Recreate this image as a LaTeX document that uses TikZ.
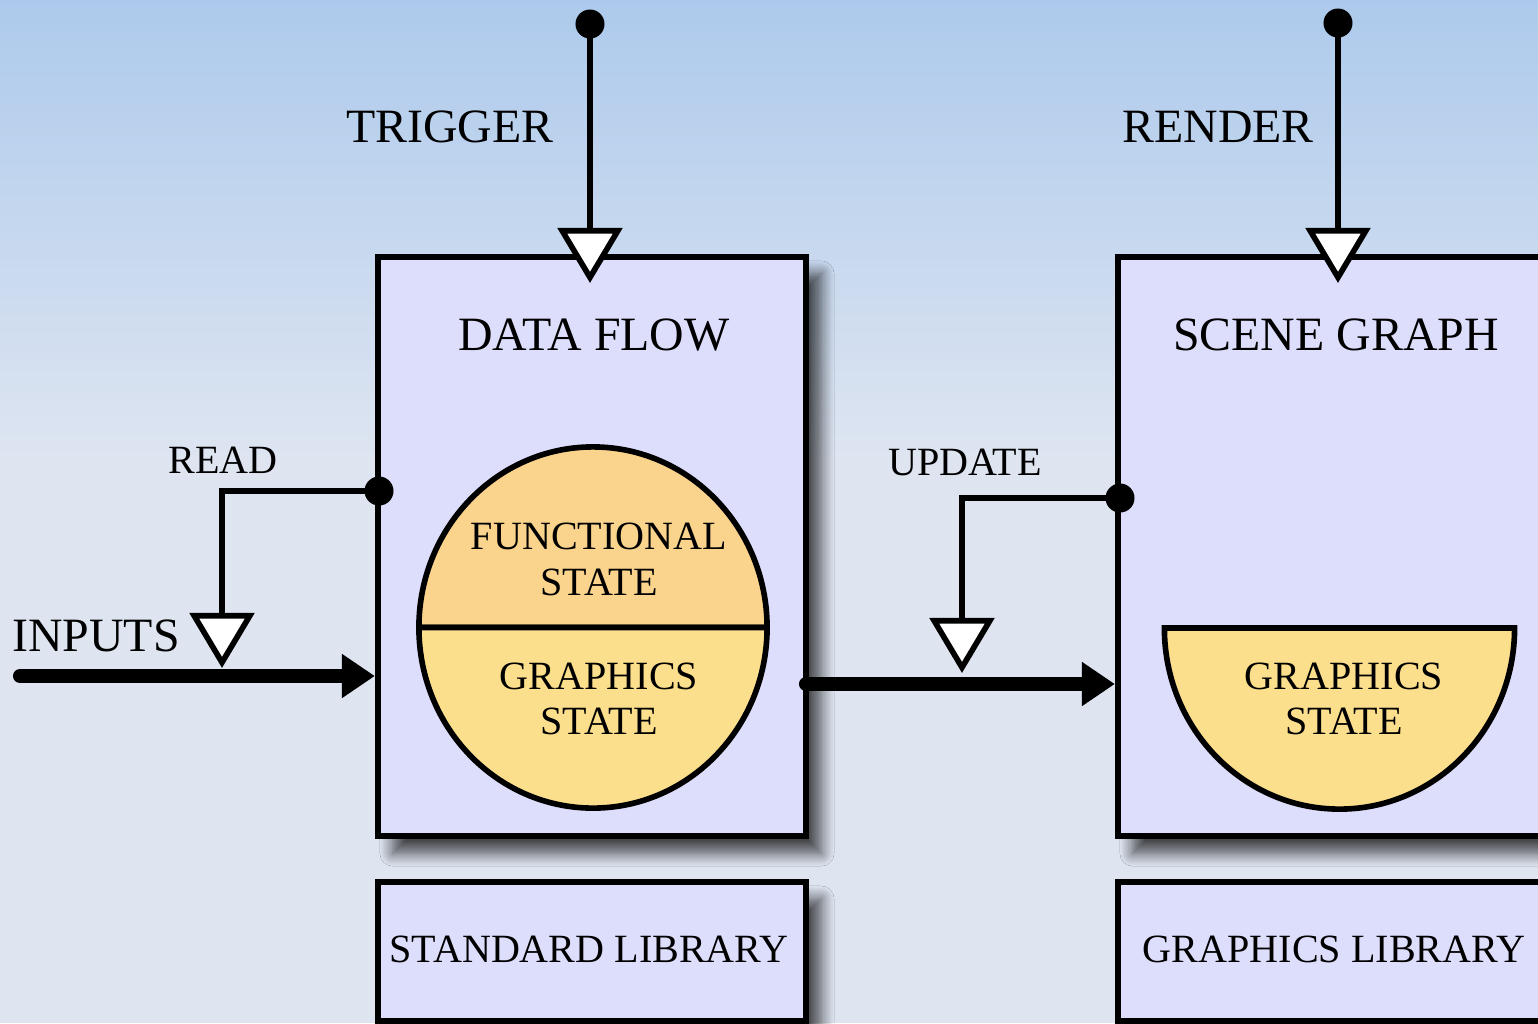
\documentclass[tikz,border=0pt]{standalone}
\usepackage{fontspec}
\setmainfont{Liberation Serif}
\usetikzlibrary{arrows.meta,shadows.blur}

\definecolor{skytop}{RGB}{173,202,236}
\definecolor{skylow}{RGB}{222,229,241}
\definecolor{lavender}{RGB}{221,221,252}
\definecolor{funcstate}{RGB}{250,211,140}
\definecolor{gfxstate}{RGB}{252,223,140}

\tikzset{
  unit/.style={draw, line width=1.7pt, fill=lavender, minimum width=4.28cm,
    blur shadow={shadow xshift=.15cm, shadow yshift=-.17cm,
      shadow blur radius=.13cm, shadow blur steps=10, shadow opacity=70}},
  wire/.style={line width=1.6pt, line join=miter},
  hollow/.style={wire, -{Triangle[length=.55cm, width=.64cm, fill=white]}},
  pipe/.style={line width=4pt, line cap=round, -{Triangle[length=.33cm, width=.42cm]}},
  biglbl/.style={font=\fontsize{13.6}{16}\selectfont},
  smalllbl/.style={font=\fontsize{11.4}{13}\selectfont, align=center}
}

\begin{document}
\begin{tikzpicture}[x=.01cm, y=-.01cm]
  \useasboundingbox (0,0) rectangle (1538,1023);
  \clip (0,0) rectangle (1538,1023);
  \shade[top color=skytop, bottom color=skylow] (0,0) rectangle (1538,460);
  \fill[skylow] (0,459) rectangle (1538,1023);

  % blocks, libraries underneath
  \node[unit, minimum height=5.79cm] (flow) at (592,546.5) {};
  \node[unit, minimum height=5.79cm] (scene) at (1332,546.5) {};
  \node[unit, minimum height=1.39cm] (stdlib) at (592,951.5) {};
  \node[unit, minimum height=1.39cm] (gfxlib) at (1332,951.5) {};

  % state held by the data flow
  \filldraw[wire, fill=funcstate] (593,627.5) ++(1.74cm,0)
    arc[start angle=0, end angle=180, x radius=1.74cm, y radius=1.805cm] -- cycle;
  \filldraw[wire, fill=gfxstate] (593,627.5) ++(1.74cm,0)
    arc[start angle=0, end angle=-180, x radius=1.74cm, y radius=1.805cm] -- cycle;
  % and the half kept by the scene graph
  \filldraw[wire, fill=gfxstate] (1339.5,628) ++(1.75cm,0)
    arc[start angle=0, end angle=-180, x radius=1.75cm, y radius=1.81cm] -- cycle;

  \node[biglbl] (flowname) at (594,335) {DATA FLOW};
  \node[biglbl] (scenename) at (1336,335) {SCENE GRAPH};
  \node[smalllbl] (funclbl) at (599,559.5) {FUNCTIONAL\\STATE};
  \node[smalllbl] (gfxlbl) at (599,699) {GRAPHICS\\STATE};
  \node[smalllbl] (bowllbl) at (1344,699) {GRAPHICS\\STATE};
  \node[smalllbl] (stdname) at (589,949) {STANDARD LIBRARY};
  \node[smalllbl] (gfxname) at (1334,949) {GRAPHICS LIBRARY};

  % data path
  \coordinate (in) at (20,676);
  \draw[pipe] (in) -- (in -| flow.west);
  \coordinate (out) at (806,684);
  \draw[pipe] (out) -- (out -| scene.west);

  % control lines with their dots
  \coordinate (trig) at (590,24);
  \coordinate (trigend) at (590,283);
  \coordinate (rend) at (1338,23);
  \coordinate (rendend) at (1338,283);
  \coordinate (readpt) at (379,491);
  \coordinate (readend) at (222,668);
  \coordinate (updpt) at (1120,498);
  \coordinate (updend) at (962,673);
  \draw[hollow] (trig) -- (trigend);
  \draw[hollow] (rend) -- (rendend);
  \draw[hollow] (readpt) -| (readend);
  \draw[hollow] (updpt) -| (updend);
  \foreach \p in {trig,rend,readpt,updpt}
    \fill (\p) circle (.145cm);

  \node[biglbl] (triglbl) at (450,127) {TRIGGER};
  \node[biglbl] (rendlbl) at (1218,127) {RENDER};
  \node[biglbl] (inlbl) at (96,636) {INPUTS};
  \node[smalllbl] (readlbl) at (223,460) {READ};
  \node[smalllbl] (updlbl) at (965,462) {UPDATE};
\end{tikzpicture}
\end{document}
